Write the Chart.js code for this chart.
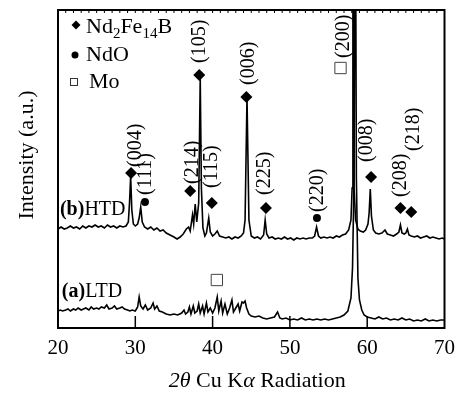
<!DOCTYPE html>
<html><head><meta charset="utf-8">
<script src="https://cdn.jsdelivr.net/npm/chart.js@4"></script>
<style>html,body{margin:0;padding:0;background:#fff}canvas{display:block}</style>
</head><body>
<canvas id="c" width="463" height="394"></canvas>
<script>
// ---- data ----
const xTicks = [20, 30, 40, 50, 60, 70];

const htdAngle = [
 20.0,20.4,20.8,21.2,21.6,22.0,22.4,22.8,23.2,23.6,
 24.0,24.4,24.8,25.2,25.6,26.0,26.4,26.8,27.2,27.6,
 28.0,28.4,28.8,29.1,29.25,29.4,29.55,29.75,30.0,30.3,
 30.5,30.7,30.9,31.2,31.6,32.0,32.4,32.8,33.2,33.6,
 34.0,34.5,35.0,35.4,35.8,36.2,36.6,36.9,37.1,37.4,
 37.55,37.75,37.95,38.2,38.4,38.55,38.75,39.0,39.2,39.5,
 39.7,40.0,40.3,40.6,40.9,41.3,41.7,42.1,42.5,42.9,
 43.3,43.7,44.0,44.2,44.45,44.7,45.0,45.4,45.8,46.2,
 46.6,46.8,47.0,47.3,47.7,48.1,48.5,48.9,49.3,49.7,
 50.1,50.5,50.9,51.3,51.7,52.1,52.5,52.9,53.2,53.45,
 53.7,54.0,54.4,54.8,55.2,55.6,56.0,56.4,56.8,57.2,
 57.6,57.9,58.05,58.15,58.3,58.5,58.8,59.1,59.5,59.8,
 60.1,60.25,60.4,60.55,60.8,61.1,61.5,61.9,62.3,62.6,
 63.0,63.4,63.8,64.1,64.3,64.5,64.8,65.0,65.2,65.4,
 65.7,66.1,66.5,66.9,67.3,67.7,68.1,68.5,68.9,69.3,
 69.7,70.0];
const htdIntensity = [
 99,101,99,100,102,100,101,99,102,100,
 102,101,103,101,102,100,103,101,102,100,
 102,101,102,106,125,152,118,104,102,104,
 110,121,106,101,99,101,98,100,97,98,
 95,93,91,89,91,94,99,101,97,113,
 104,124,106,125,250,140,100,92,95,110,
 96,92,94,97,92,91,90,91,89,91,
 90,92,95,108,231,108,92,90,91,89,
 93,108,94,90,91,89,90,89,91,89,
 90,88,90,89,90,89,90,90,92,101,
 92,90,91,90,91,90,92,91,93,94,
 98,108,140,420,140,108,99,97,96,98,
 104,115,139,112,98,95,94,95,98,94,
 93,92,94,96,103,95,94,95,99,93,
 92,91,92,90,91,92,90,91,90,89,
 90,89];

const ltdAngle = [
 20.0,20.3,20.6,21.0,21.3,21.6,22.0,22.3,22.6,23.0,
 23.3,23.6,24.0,24.3,24.6,25.0,25.3,25.6,26.0,26.3,
 26.6,27.0,27.3,27.6,28.0,28.3,28.6,29.0,29.3,29.6,
 30.0,30.3,30.5,30.7,31.0,31.3,31.6,32.0,32.3,32.5,
 32.8,33.1,33.5,34.0,34.5,35.0,35.5,36.0,36.3,36.5,
 36.8,37.0,37.2,37.5,37.7,38.0,38.2,38.4,38.7,38.9,
 39.2,39.4,39.7,40.0,40.3,40.6,40.8,41.1,41.3,41.6,
 41.9,42.2,42.5,42.7,43.0,43.3,43.5,43.8,44.0,44.2,
 44.4,44.7,45.0,45.5,46.0,46.5,47.0,47.5,48.0,48.4,
 48.7,49.0,49.5,50.0,50.5,51.0,51.5,52.0,52.5,53.0,
 53.5,54.0,54.5,55.0,55.5,56.0,56.5,57.0,57.5,57.9,
 58.1,58.3,58.45,58.6,58.8,59.0,59.3,59.6,60.0,60.5,
 61.0,61.5,62.0,62.5,63.0,63.5,64.0,64.5,65.0,65.5,
 66.0,66.5,67.0,67.5,68.0,68.5,69.0,69.5,70.0];
const ltdIntensity = [
 17,18,17,18,19,17,19,18,20,18,
 19,20,18,21,19,20,19,21,20,23,
 19,20,22,19,20,21,19,18,17,18,
 17,21,31,22,19,23,18,20,25,19,
 22,17,16,14,13,14,13,15,18,14,
 16,21,14,22,15,17,24,15,22,14,
 25,16,20,15,20,31,17,27,15,24,
 14,20,28,16,20,24,17,26,25,27,
 20,14,12,11,12,10,9,10,11,16,
 10,9,10,8,9,8,10,8,9,8,
 9,8,9,8,9,10,11,13,17,30,
 60,150,520,150,50,28,18,13,11,10,
 9,11,9,10,8,9,8,10,8,9,
 7,8,7,9,7,8,7,8,8];

// phase markers (angle, intensity)
const nd2fe14bAngle = [29.45, 37.1, 38.27, 39.9, 44.37, 46.9, 60.5, 64.3, 65.7];
const nd2fe14bLevel = [155, 137, 253, 125, 231, 120, 151, 120, 116];
const ndoAngle = [31.25, 53.5];
const ndoLevel = [126, 110];
const moAngle = [56.55, 40.55];
const moLevel = [260, 48];

// peak index labels
const peakLabels = ['(004)','(111)','(214)','(105)','(115)','(006)','(225)','(220)','(200)','(008)','(208)','(218)'];
const peakLabelAngle = [30.03, 31.4, 37.4, 38.4, 39.92, 44.62, 46.78, 53.63, 56.93, 59.97, 64.29, 66.07];
const peakLabelLevel = [161, 133, 144, 265, 140, 243, 133, 116, 270, 166, 131, 177];

// trace names
const traceNames = [['(b)', 'HTD'], ['(a)', 'LTD']];
const traceNameAngle = [20.25, 20.5];
const traceNameLevel = [113, 31];

const SERIF = '"Liberation Serif", "Times New Roman", serif';

const pts = (xs, ys) => xs.map((v, i) => ({x: v, y: ys[i]}));

const overlay = {
  id: 'overlay',
  afterDatasetsDraw(chart) {
    const {ctx, chartArea: a, scales: {x, y}} = chart;
    ctx.save();
    ctx.fillStyle = '#000';
    ctx.strokeStyle = '#000';
    // frame
    ctx.lineWidth = 2;
    ctx.strokeRect(a.left, a.top, a.right - a.left, a.bottom - a.top);
    // inward major ticks on bottom
    ctx.lineWidth = 1.5;
    xTicks.forEach(v => {
      if (v > x.min && v < x.max) {
        const px = x.getPixelForValue(v);
        ctx.beginPath(); ctx.moveTo(px, a.bottom); ctx.lineTo(px, a.bottom - 12); ctx.stroke();
      }
    });
    // small ticks on top
    ctx.lineWidth = 1;
    for (let v = x.min + 1; v < x.max; v += 1) {
      const px = x.getPixelForValue(v);
      ctx.beginPath(); ctx.moveTo(px, a.top); ctx.lineTo(px, a.top + 3); ctx.stroke();
    }
    // peak labels
    ctx.font = '20px ' + SERIF;
    ctx.textAlign = 'left';
    ctx.textBaseline = 'middle';
    peakLabels.forEach((t, i) => {
      const px = x.getPixelForValue(peakLabelAngle[i]);
      const py = y.getPixelForValue(peakLabelLevel[i]);
      ctx.save(); ctx.translate(px, py); ctx.rotate(-Math.PI / 2);
      ctx.fillText(t, 0, 0); ctx.restore();
    });
    // trace names
    ctx.textBaseline = 'alphabetic';
    traceNames.forEach((parts, i) => {
      let px = x.getPixelForValue(traceNameAngle[i]);
      const py = y.getPixelForValue(traceNameLevel[i]);
      ctx.font = 'bold 20px ' + SERIF; ctx.fillText(parts[0], px, py);
      px += ctx.measureText(parts[0]).width;
      ctx.font = '20px ' + SERIF; ctx.fillText(parts[1], px, py);
    });
    // legend
    const lx = a.left, ly = a.top;
    ctx.beginPath();
    const dx = lx + 18, dy = ly + 15, r = 4.5;
    ctx.moveTo(dx, dy - r); ctx.lineTo(dx + r, dy); ctx.lineTo(dx, dy + r); ctx.lineTo(dx - r, dy); ctx.closePath(); ctx.fill();
    let tx = lx + 28; const tb = ly + 23;
    const seg = [['Nd', 22, 0], ['2', 15, 5], ['Fe', 22, 0], ['14', 15, 5], ['B', 22, 0]];
    seg.forEach(s => { ctx.font = s[1] + 'px ' + SERIF; ctx.fillText(s[0], tx, tb + s[2]); tx += ctx.measureText(s[0]).width; });
    ctx.beginPath(); ctx.arc(lx + 17, ly + 45, 3.5, 0, Math.PI * 2); ctx.fill();
    ctx.font = '22px ' + SERIF; ctx.fillText('NdO', lx + 28, ly + 51);
    ctx.lineWidth = 1; ctx.strokeStyle = '#333';
    ctx.strokeRect(lx + 12.5, ly + 68.5, 7, 7);
    ctx.fillText('Mo', lx + 31, ly + 78);
    // y title
    ctx.save();
    ctx.translate(a.left - 31, a.top + 145); ctx.rotate(-Math.PI / 2);
    ctx.textAlign = 'center'; ctx.textBaseline = 'middle';
    ctx.font = '22px ' + SERIF;
    ctx.fillText('Intensity (a.u.)', 0, 0);
    ctx.restore();
    // x title with italic parts
    const parts = [['2\u03B8', true], [' Cu K', false], ['\u03B1', true], [' Radiation', false]];
    let total = 0;
    parts.forEach(p => { ctx.font = (p[1] ? 'italic ' : '') + '22px ' + SERIF; total += ctx.measureText(p[0]).width; });
    let sx = (a.left + a.right) / 2 + 6 - total / 2;
    const sb = a.bottom + 59;
    ctx.textAlign = 'left';
    parts.forEach(p => { ctx.font = (p[1] ? 'italic ' : '') + '22px ' + SERIF; ctx.fillText(p[0], sx, sb); sx += ctx.measureText(p[0]).width; });
    ctx.restore();
  }
};

new Chart(document.getElementById('c'), {
  type: 'line',
  data: {
    datasets: [
      {label: 'HTD', data: pts(htdAngle, htdIntensity), borderColor: '#000', borderWidth: 1.6, pointRadius: 0, tension: 0, fill: false},
      {label: 'LTD', data: pts(ltdAngle, ltdIntensity), borderColor: '#000', borderWidth: 1.6, pointRadius: 0, tension: 0, fill: false},
      {type: 'scatter', label: 'Nd2Fe14B', data: pts(nd2fe14bAngle, nd2fe14bLevel), pointStyle: 'rectRot', pointRadius: 6, backgroundColor: '#000', borderColor: '#000', borderWidth: 0},
      {type: 'scatter', label: 'NdO', data: pts(ndoAngle, ndoLevel), pointStyle: 'circle', pointRadius: 4, backgroundColor: '#000', borderColor: '#000', borderWidth: 0},
      {type: 'scatter', label: 'Mo', data: pts(moAngle, moLevel), pointStyle: 'rect', pointRadius: 8, backgroundColor: 'rgba(0,0,0,0)', borderColor: '#444', borderWidth: 1}
    ]
  },
  options: {
    responsive: false,
    animation: false,
    devicePixelRatio: 1,
    layout: {padding: {top: 10, right: 11, left: 0, bottom: 0}},
    plugins: {legend: {display: false}, tooltip: {enabled: false}},
    scales: {
      x: {
        type: 'linear', min: 20, max: 70,
        afterBuildTicks: s => { s.ticks = xTicks.map(v => ({value: v})); },
        ticks: {color: '#000', font: {family: SERIF, size: 21}, padding: 8, maxRotation: 0},
        grid: {display: false, drawTicks: false},
        border: {display: false},
        afterFit: s => { s.height = 66; }
      },
      y: {
        type: 'linear', min: 0, max: 318,
        ticks: {display: false},
        grid: {display: false, drawTicks: false},
        border: {display: false},
        afterFit: s => { s.width = 58; }
      }
    }
  },
  plugins: [overlay]
});
</script>
</body></html>
